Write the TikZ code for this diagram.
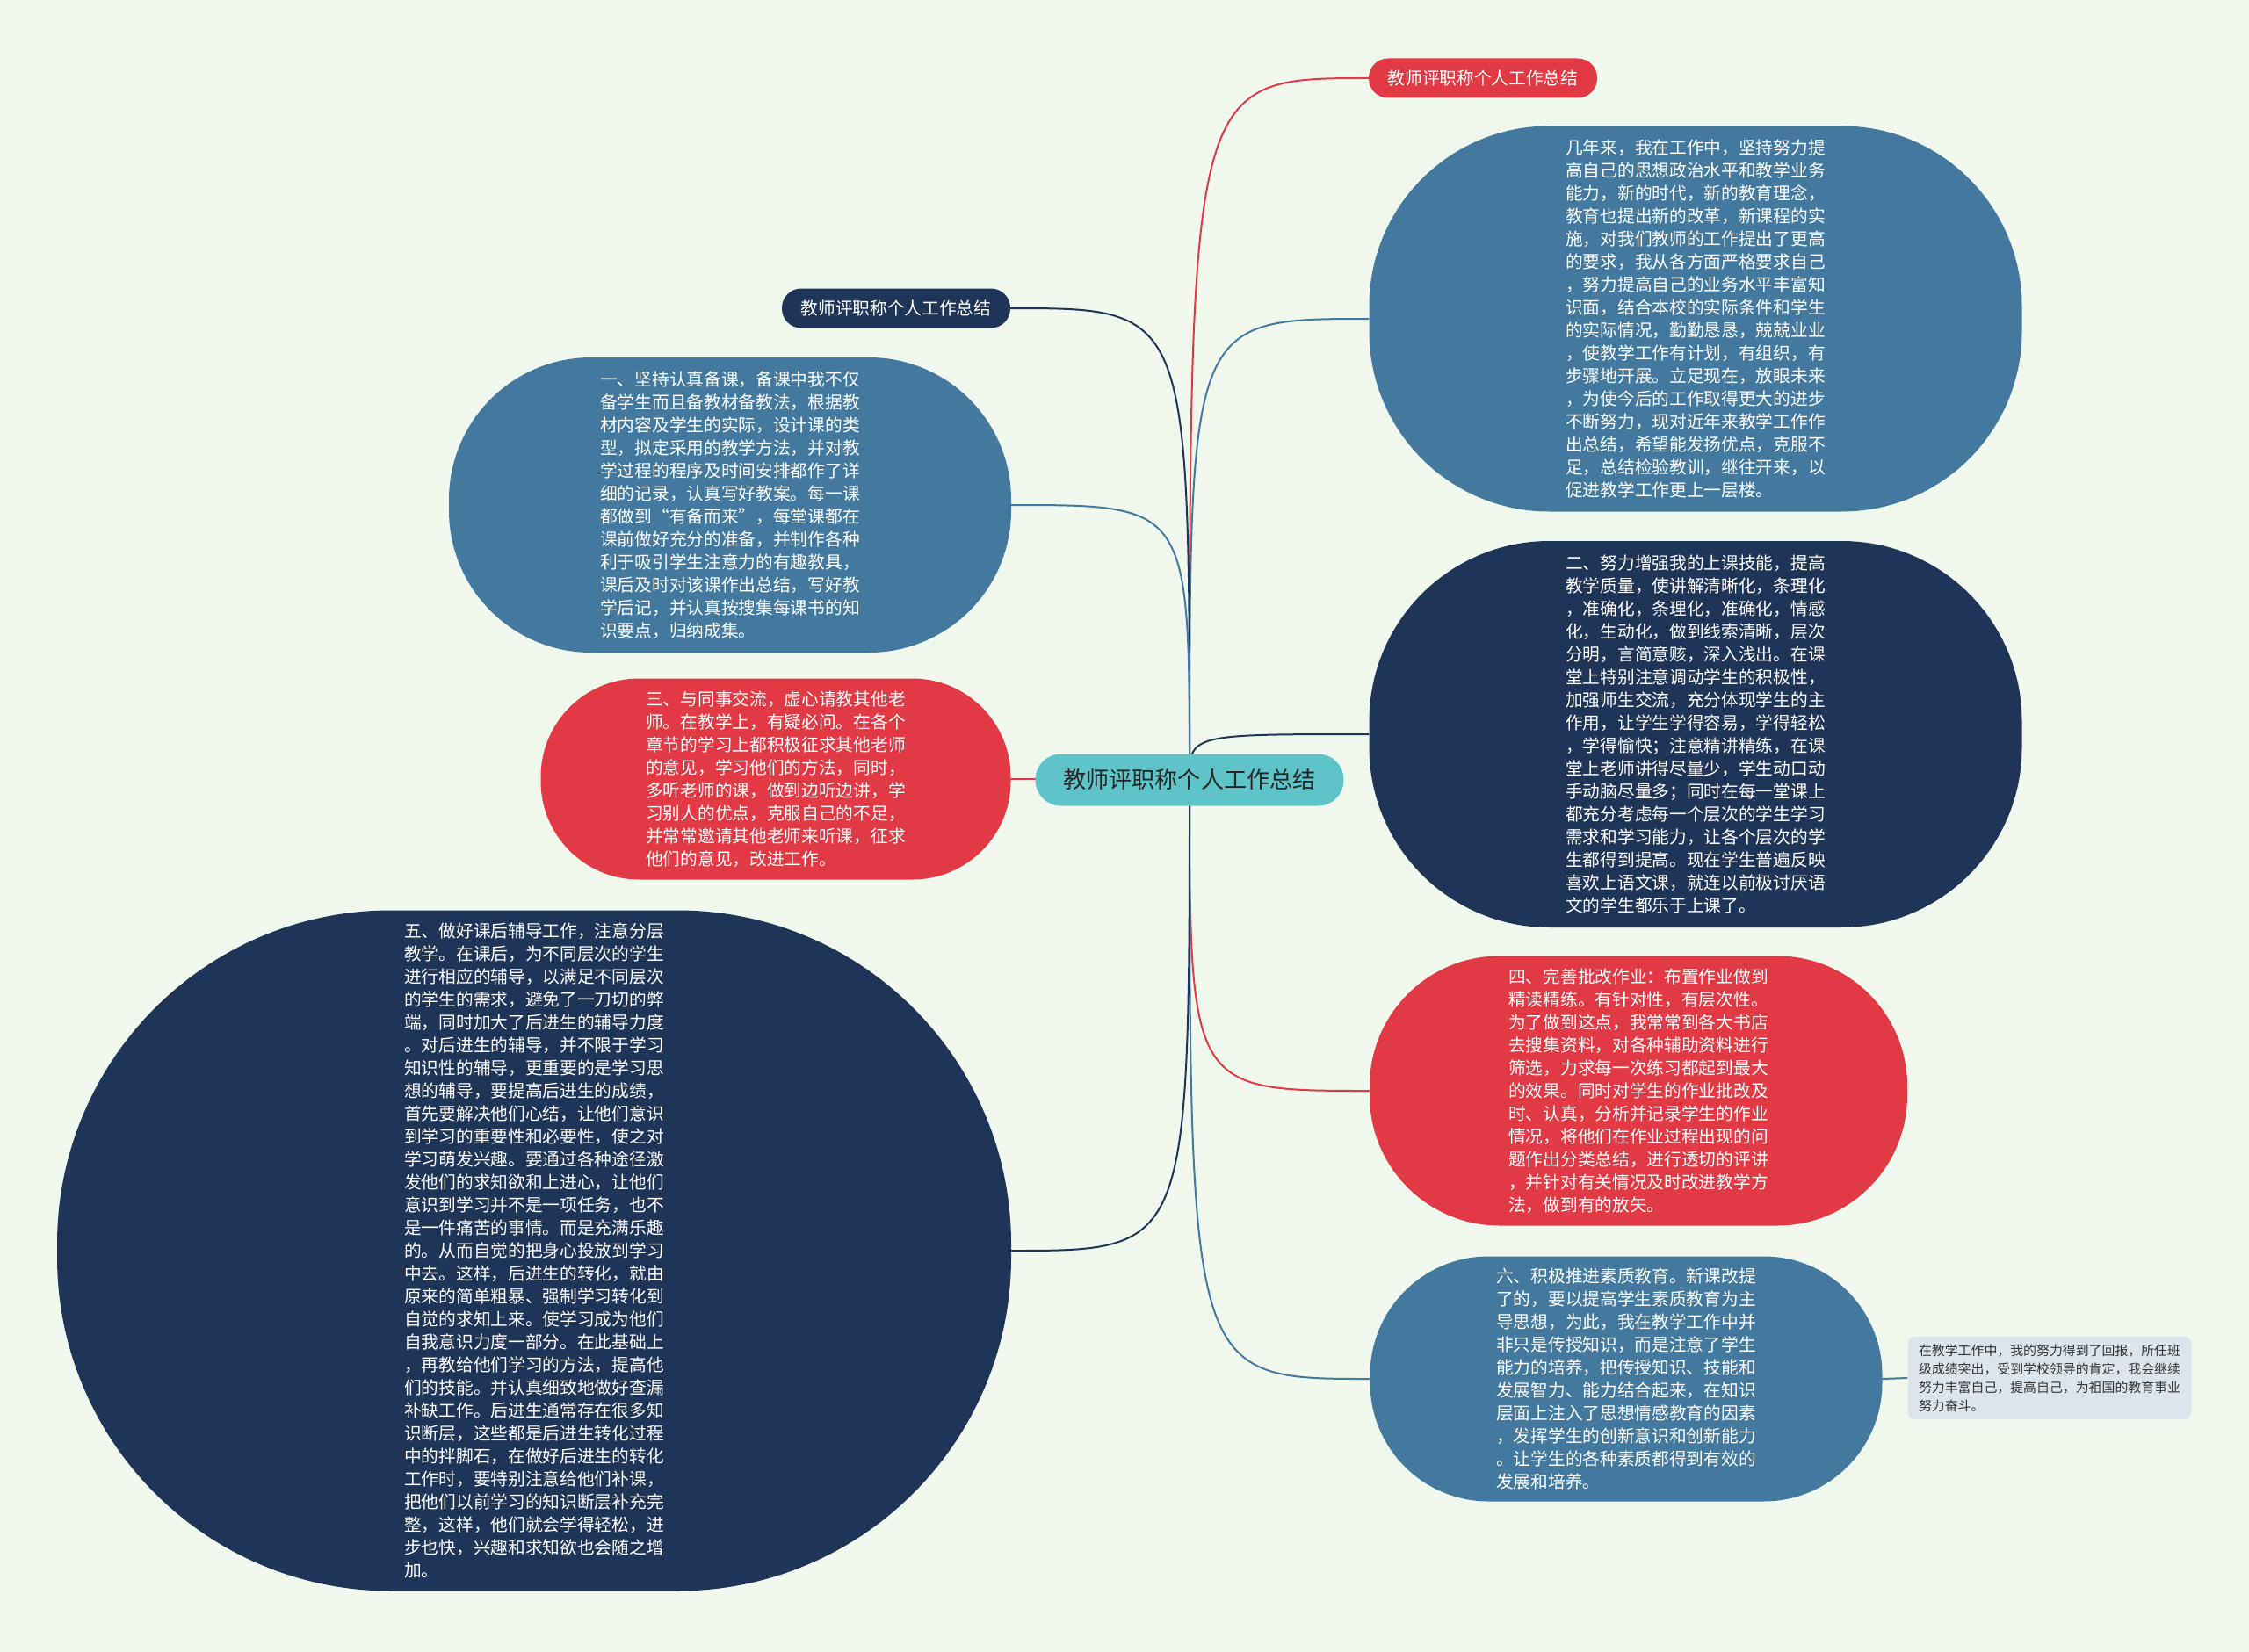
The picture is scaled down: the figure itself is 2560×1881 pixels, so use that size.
\documentclass[tikz,border=0pt]{standalone}
\usepackage{fontspec}
\newfontfamily\cjk{Noto Sans CJK SC}
\usepackage{tikz}
\usetikzlibrary{calc}
\definecolor{bgmint}{RGB}{240,248,238}
\definecolor{cblue}{RGB}{67,121,158}
\definecolor{cnavy}{RGB}{30,53,87}
\definecolor{cred}{RGB}{226,58,69}
\definecolor{cteal}{RGB}{94,196,200}
\definecolor{cnote}{RGB}{221,229,236}
\pgfdeclarelayer{bg}
\pgfsetlayers{bg,main}

\begin{document}
\begin{tikzpicture}[x=1pt, y=-1pt,
  every node/.style={font=\cjk\fontsize{19.7}{26}\selectfont, inner sep=0pt,
                     align=left},
  blob/.style n args={3}{minimum width=#1, minimum height=#2,
                         rounded corners=#3, text=white},
  tag/.style={minimum width=260pt, minimum height=45pt, rounded corners=22pt,
              text=white},
  link/.style={line width=2pt}]
  \useasboundingbox (0,0) rectangle (2560,1881);

  \node[fill=cteal, minimum width=351pt, minimum height=59pt,
        rounded corners=29pt, text=black!85,
        font=\cjk\fontsize{26.1}{30}\selectfont] (c) at (1354,888)
    {教师评职称个人工作总结};

  \node[tag, fill=cred] (t1) at (1688,89) {教师评职称个人工作总结};
  \node[blob={743pt}{439pt}{205pt}, fill=cblue] (tr) at (1930,363)
    {几年来，我在工作中，坚持努力提\\高自己的思想政治水平和教学业务\\
     能力，新的时代，新的教育理念，\\教育也提出新的改革，新课程的实\\
     施，对我们教师的工作提出了更高\\的要求，我从各方面严格要求自己\\
     ，努力提高自己的业务水平丰富知\\识面，结合本校的实际条件和学生\\
     的实际情况，勤勤恳恳，兢兢业业\\，使教学工作有计划，有组织，有\\
     步骤地开展。立足现在，放眼未来\\，为使今后的工作取得更大的进步\\
     不断努力，现对近年来教学工作作\\出总结，希望能发扬优点，克服不\\
     足，总结检验教训，继往开来，以\\促进教学工作更上一层楼。};
  \node[blob={743pt}{440pt}{205pt}, fill=cnavy] (rn) at (1930,836)
    {二、努力增强我的上课技能，提高\\教学质量，使讲解清晰化，条理化\\
     ，准确化，条理化，准确化，情感\\化，生动化，做到线索清晰，层次\\
     分明，言简意赅，深入浅出。在课\\堂上特别注意调动学生的积极性，\\
     加强师生交流，充分体现学生的主\\作用，让学生学得容易，学得轻松\\
     ，学得愉快；注意精讲精练，在课\\堂上老师讲得尽量少，学生动口动\\
     手动脑尽量多；同时在每一堂课上\\都充分考虑每一个层次的学生学习\\
     需求和学习能力，让各个层次的学\\生都得到提高。现在学生普遍反映\\
     喜欢上语文课，就连以前极讨厌语\\文的学生都乐于上课了。};
  \node[blob={612pt}{307pt}{148pt}, fill=cred] (rr) at (1865,1242)
    {四、完善批改作业：布置作业做到\\精读精练。有针对性，有层次性。\\
     为了做到这点，我常常到各大书店\\去搜集资料，对各种辅助资料进行\\
     筛选，力求每一次练习都起到最大\\的效果。同时对学生的作业批改及\\
     时、认真，分析并记录学生的作业\\情况，将他们在作业过程出现的问\\
     题作出分类总结，进行透切的评讲\\，并针对有关情况及时改进教学方\\
     法，做到有的放矢。};
  \node[blob={583pt}{279pt}{135pt}, fill=cblue] (rb) at (1851,1570)
    {六、积极推进素质教育。新课改提\\了的，要以提高学生素质教育为主\\
     导思想，为此，我在教学工作中并\\非只是传授知识，而是注意了学生\\
     能力的培养，把传授知识、技能和\\发展智力、能力结合起来，在知识\\
     层面上注入了思想情感教育的因素\\，发挥学生的创新意识和创新能力\\
     。让学生的各种素质都得到有效的\\发展和培养。};
  \node[fill=cnote, minimum width=323pt, minimum height=94pt,
        rounded corners=8pt, text=black!80,
        font=\cjk\fontsize{14.9}{21}\selectfont] (note) at (2333,1569)
    {在教学工作中，我的努力得到了回报，所任班\\级成绩突出，受到学校领导的肯定，我会继续\\
     努力丰富自己，提高自己，为祖国的教育事业\\努力奋斗。};

  \node[tag, fill=cnavy] (t2) at (1020,351) {教师评职称个人工作总结};
  \node[blob={640pt}{336pt}{162pt}, fill=cblue] (lb) at (831,575)
    {一、坚持认真备课，备课中我不仅\\备学生而且备教材备教法，根据教\\
     材内容及学生的实际，设计课的类\\型，拟定采用的教学方法，并对教\\
     学过程的程序及时间安排都作了详\\细的记录，认真写好教案。每一课\\
     都做到“有备而来”，每堂课都在\\课前做好充分的准备，并制作各种\\
     利于吸引学生注意力的有趣教具，\\课后及时对该课作出总结，写好教\\
     学后记，并认真按搜集每课书的知\\识要点，归纳成集。};
  \node[blob={535pt}{229pt}{112pt}, fill=cred] (lr) at (883,887)
    {三、与同事交流，虚心请教其他老\\师。在教学上，有疑必问。在各个\\
     章节的学习上都积极征求其他老师\\的意见，学习他们的方法，同时，\\
     多听老师的课，做到边听边讲，学\\习别人的优点，克服自己的不足，\\
     并常常邀请其他老师来听课，征求\\他们的意见，改进工作。};
  \node[blob={1086pt}{775pt}{380pt}, fill=cnavy] (ln) at (608,1424)
    {五、做好课后辅导工作，注意分层\\教学。在课后，为不同层次的学生\\
     进行相应的辅导，以满足不同层次\\的学生的需求，避免了一刀切的弊\\
     端，同时加大了后进生的辅导力度\\。对后进生的辅导，并不限于学习\\
     知识性的辅导，更重要的是学习思\\想的辅导，要提高后进生的成绩，\\
     首先要解决他们心结，让他们意识\\到学习的重要性和必要性，使之对\\
     学习萌发兴趣。要通过各种途径激\\发他们的求知欲和上进心，让他们\\
     意识到学习并不是一项任务，也不\\是一件痛苦的事情。而是充满乐趣\\
     的。从而自觉的把身心投放到学习\\中去。这样，后进生的转化，就由\\
     原来的简单粗暴、强制学习转化到\\自觉的求知上来。使学习成为他们\\
     自我意识力度一部分。在此基础上\\，再教给他们学习的方法，提高他\\
     们的技能。并认真细致地做好查漏\\补缺工作。后进生通常存在很多知\\
     识断层，这些都是后进生转化过程\\中的拌脚石，在做好后进生的转化\\
     工作时，要特别注意给他们补课，\\把他们以前学习的知识断层补充完\\
     整，这样，他们就会学得轻松，进\\步也快，兴趣和求知欲也会随之增\\
     加。};

  \begin{pgfonlayer}{bg}
    \fill[bgmint] (0,0) rectangle (2560,1881);
    \draw[link, cred] (c.center) .. controls (c.center |- t1.west) .. (t1.west);
    \draw[link, cblue] (c.center) .. controls (c.center |- tr.west) .. (tr.west);
    \draw[link, cnavy] (c.center) .. controls (c.center |- rn.west) .. (rn.west);
    \draw[link, cred] (c.center) .. controls (c.center |- rr.west) .. (rr.west);
    \draw[link, cblue] (c.center) .. controls (c.center |- rb.west) .. (rb.west);
    \draw[link, cblue] (rb.east) -- (note.west);
    \draw[link, cnavy] (c.center) .. controls (c.center |- t2.east) .. (t2.east);
    \draw[link, cblue] (c.center) .. controls (c.center |- lb.east) .. (lb.east);
    \draw[link, cred] (c.center) .. controls (c.center |- lr.east) .. (lr.east);
    \draw[link, cnavy] (c.center) .. controls (c.center |- ln.east) .. (ln.east);
  \end{pgfonlayer}
\end{tikzpicture}
\end{document}
